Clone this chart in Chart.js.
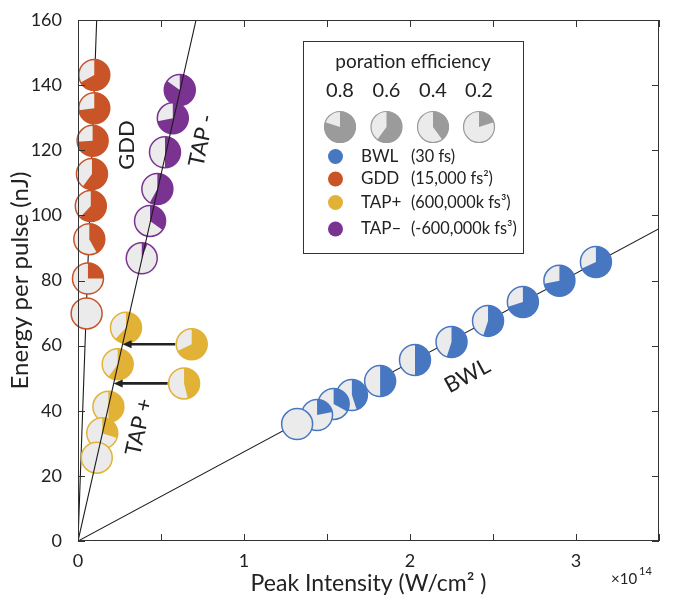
<!DOCTYPE html>
<html>
<head>
<meta charset="utf-8">
<script src="https://cdn.jsdelivr.net/npm/chart.js@4.4.0/dist/chart.umd.min.js"></script>
<style>
  html, body { margin: 0; padding: 0; background: #fff; }
  #wrap { width: 687px; height: 603px; }
</style>
</head>
<body>
<div id="wrap"><canvas id="chart" width="687" height="603"></canvas></div>
<script>
// Energy per pulse vs peak intensity, pie markers = poration efficiency

// BWL (30 fs)
const bwlX = [1.32, 1.44, 1.54, 1.65, 1.82, 2.03, 2.25, 2.47, 2.68, 2.90, 3.12];
const bwlY = [35.9, 38.7, 42.1, 44.8, 49.1, 55.6, 61.1, 67.6, 73.4, 79.9, 85.7];
const bwlEff = [0, 0.22, 0.33, 0.45, 0.5, 0.5, 0.55, 0.55, 0.7, 0.72, 0.68];

// GDD (15,000 fs2)
const gddX = [0.098, 0.098, 0.088, 0.084, 0.077, 0.068, 0.060, 0.052];
const gddY = [143.1, 132.9, 122.9, 112.7, 102.9, 92.7, 80.6, 69.9];
const gddEff = [0.67, 0.73, 0.74, 0.6, 0.62, 0.42, 0.25, 0];

// TAP+ (600,000k fs3)
const tapPlusX = [0.289, 0.239, 0.183, 0.146, 0.113];
const tapPlusY = [65.5, 54.3, 41.2, 33.1, 25.6];
const tapPlusEff = [0.62, 0.6, 0.5, 0.3, 0];

// TAP+ markers shown shifted to the right (arrows point back to the fit line)
const tapShiftX = [0.685, 0.639];
const tapShiftY = [60.4, 48.4];
const tapShiftEff = [0.68, 0.46];

// TAP- (-600,000k fs3)
const tapMinusX = [0.613, 0.571, 0.524, 0.478, 0.434, 0.384];
const tapMinusY = [138.5, 129.8, 119.4, 108.1, 98.3, 86.8];
const tapMinusEff = [0.85, 0.72, 0.5, 0.58, 0.35, 0.06];

// fit lines through origin: slope in nJ per 1e14 W/cm2
const fitNames = ['GDD', 'TAP', 'BWL'];
const fitSlopes = [1422, 225, 27.4];

// legend
const legendEff = [0.8, 0.6, 0.4, 0.2];
const legendNames = ['BWL', 'GDD', 'TAP+', 'TAP\u2013'];
const legendNotes = ['(30 fs)', '(15,000 fs\u00B2)', '(600,000k fs\u00B3)', '(-600,000k fs\u00B3)'];

const X_MAX = 3.5, Y_MAX = 160;
const FONT = 'Lato, "Open Sans", sans-serif';
const TXT = '#222';
const LIGHT = '#ebebeb';
const COLORS = { BWL: '#4877c2', GDD: '#c85428', TAPP: '#e2b237', TAPM: '#7a3391' };
const PIE_R = 15.5;

function pts(xs, ys) {
  return xs.map((x, i) => ({ x: x, y: ys[i] }));
}

function fitLine(slope) {
  // run from origin to the edge of the axes box
  const xEnd = Math.min(X_MAX, Y_MAX / slope);
  return [{ x: 0, y: 0 }, { x: xEnd, y: xEnd * slope }];
}

function lineDs(name) {
  const k = fitNames.indexOf(name);
  return {
    type: 'scatter', showLine: true, data: fitLine(fitSlopes[k]),
    borderColor: '#1a1a1a', borderWidth: 1.1, pointStyle: false, pointRadius: 0
  };
}

function pieDs(xs, ys, eff, color) {
  return {
    type: 'scatter', data: pts(xs, ys), eff: eff, pieColor: color,
    pointStyle: false, pointRadius: 0
  };
}

function drawPie(ctx, x, y, r, f, color, lw) {
  ctx.beginPath();
  ctx.arc(x, y, r, 0, Math.PI * 2);
  ctx.fillStyle = LIGHT;
  ctx.fill();
  if (f > 0) {
    ctx.beginPath();
    ctx.moveTo(x, y);
    ctx.arc(x, y, r, -Math.PI / 2, -Math.PI / 2 + f * Math.PI * 2);
    ctx.closePath();
    ctx.fillStyle = color;
    ctx.fill();
  }
  ctx.beginPath();
  ctx.arc(x, y, r, 0, Math.PI * 2);
  ctx.lineWidth = lw || 1.5;
  ctx.strokeStyle = color;
  ctx.stroke();
}

// pie markers drawn right after their own dataset, so line order still applies
const piePlugin = {
  id: 'pies',
  afterDatasetDraw(chart, args) {
    const ds = chart.data.datasets[args.index];
    if (!ds.eff) return;
    const ctx = chart.ctx;
    const order = args.meta.data.map((p, i) => i).sort((a, b) => args.meta.data[a].y - args.meta.data[b].y);
    ctx.save();
    order.forEach(i => {
      const p = args.meta.data[i];
      drawPie(ctx, p.x, p.y, PIE_R, ds.eff[i], ds.pieColor);
    });
    ctx.restore();
  }
};

// inward ticks on all four sides, box, arrows, in-plot labels, legend
const decorPlugin = {
  id: 'decor',
  afterDatasetsDraw(chart) {
    const ctx = chart.ctx;
    const xs = chart.scales.x, ys = chart.scales.y;
    ctx.save();
    // arrows from the shifted TAP+ markers back to the TAP line
    const tapSlope = fitSlopes[fitNames.indexOf('TAP')];
    ctx.strokeStyle = '#222';
    ctx.fillStyle = '#222';
    ctx.lineWidth = 2.6;
    tapShiftX.forEach((x, i) => {
      const py = ys.getPixelForValue(tapShiftY[i]);
      const x0 = xs.getPixelForValue(x) - PIE_R - 1;
      const x1 = xs.getPixelForValue(tapShiftY[i] / tapSlope);
      ctx.beginPath();
      ctx.moveTo(x0, py);
      ctx.lineTo(x1 + 7, py);
      ctx.stroke();
      ctx.beginPath();
      ctx.moveTo(x1, py);
      ctx.lineTo(x1 + 9, py - 4);
      ctx.lineTo(x1 + 9, py + 4);
      ctx.closePath();
      ctx.fill();
    });

    // rotated labels next to each fit line
    const labels = [
      { t: 'GDD', x: 0.295, y: 121.6, rot: -90 },
      { t: 'TAP -', x: 0.745, y: 123, rot: -77.7 },
      { t: 'TAP +', x: 0.368, y: 35.0, rot: -77.7 },
      { t: 'BWL', x: 2.345, y: 50.7, rot: -28.3 }
    ];
    ctx.font = '22px ' + FONT;
    ctx.fillStyle = TXT;
    ctx.textAlign = 'center';
    ctx.textBaseline = 'middle';
    labels.forEach(l => {
      ctx.save();
      ctx.translate(xs.getPixelForValue(l.x), ys.getPixelForValue(l.y));
      ctx.rotate(l.rot * Math.PI / 180);
      ctx.fillText(l.t, 0, 0);
      ctx.restore();
    });

    // axes box and inward ticks
    const a = chart.chartArea;
    ctx.strokeStyle = '#333';
    ctx.lineWidth = 1;
    ctx.strokeRect(a.left + 0.5, a.top + 0.5, a.right - a.left - 1, a.bottom - a.top - 1);
    const TL = 7;
    ctx.beginPath();
    xs.ticks.forEach(t => {
      const px = Math.round(xs.getPixelForValue(t.value)) + 0.5;
      ctx.moveTo(px, a.bottom); ctx.lineTo(px, a.bottom - TL);
      ctx.moveTo(px, a.top); ctx.lineTo(px, a.top + TL);
    });
    ys.ticks.forEach(t => {
      const py = Math.round(ys.getPixelForValue(t.value)) + 0.5;
      ctx.moveTo(a.left, py); ctx.lineTo(a.left + TL, py);
      ctx.moveTo(a.right, py); ctx.lineTo(a.right - TL, py);
    });
    ctx.stroke();

    // exponent for the x axis
    ctx.textAlign = 'left';
    ctx.textBaseline = 'alphabetic';
    ctx.font = '15px ' + FONT;
    ctx.fillText('\u00D710', 611, 584);
    ctx.font = '11px ' + FONT;
    ctx.fillText('14', 639, 575);

    // legend box
    const L = { left: 303, top: 41, right: 523, bottom: 253 };
    ctx.fillStyle = '#fff';
    ctx.fillRect(L.left, L.top, L.right - L.left, L.bottom - L.top);
    ctx.strokeStyle = '#333';
    ctx.strokeRect(L.left + 0.5, L.top + 0.5, L.right - L.left, L.bottom - L.top);
    ctx.fillStyle = TXT;
    ctx.textAlign = 'center';
    ctx.textBaseline = 'middle';
    ctx.font = '19px ' + FONT;
    ctx.fillText('poration efficiency', 413, 62);
    const colX = [340, 386.5, 433, 479];
    legendEff.forEach((f, i) => {
      ctx.fillStyle = TXT;
      ctx.font = '20px ' + FONT;
      ctx.fillText(String(f), colX[i], 91);
      drawPie(ctx, colX[i], 127, 15.5, f, '#9b9b9b', 1.2);
    });
    const rowY = [156.5, 179, 202.5, 229];
    const legendColors = [COLORS.BWL, COLORS.GDD, COLORS.TAPP, COLORS.TAPM];
    ctx.textAlign = 'left';
    legendNames.forEach((n, i) => {
      ctx.beginPath();
      ctx.arc(335.5, rowY[i], 7.5, 0, Math.PI * 2);
      ctx.fillStyle = legendColors[i];
      ctx.fill();
      ctx.fillStyle = TXT;
      ctx.font = '17px ' + FONT;
      ctx.fillText(n, 361, rowY[i]);
      ctx.font = '16.3px ' + FONT;
      ctx.fillText(legendNotes[i], 411, rowY[i]);
    });
    ctx.restore();
  }
};

const datasets = [
  lineDs('TAP'),
  pieDs(tapShiftX, tapShiftY, tapShiftEff, COLORS.TAPP),
  pieDs(tapPlusX, tapPlusY, tapPlusEff, COLORS.TAPP),
  pieDs(tapMinusX, tapMinusY, tapMinusEff, COLORS.TAPM),
  pieDs(gddX, gddY, gddEff, COLORS.GDD),
  pieDs(bwlX, bwlY, bwlEff, COLORS.BWL),
  lineDs('GDD'),
  lineDs('BWL')
];

new Chart(document.getElementById('chart'), {
  type: 'scatter',
  data: { datasets: datasets },
  options: {
    responsive: false,
    devicePixelRatio: 1,
    animation: false,
    events: [],
    layout: { padding: { top: 20, right: 28, left: 0, bottom: 0 } },
    plugins: { legend: { display: false }, tooltip: { enabled: false } },
    scales: {
      x: {
        type: 'linear', min: 0, max: X_MAX,
        grid: { display: false }, border: { display: false },
        ticks: {
          stepSize: 0.5, padding: 1, color: TXT, font: { family: FONT, size: 18 },
          callback: v => Number.isInteger(v) ? String(v) : ''
        },
        title: {
          display: true, text: 'Peak Intensity (W/cm\u00B2 )', color: TXT,
          font: { family: FONT, size: 23 }, padding: { top: 0, bottom: 6 }
        },
        afterFit: s => { s.height = 62; }
      },
      y: {
        type: 'linear', min: 0, max: Y_MAX,
        grid: { display: false }, border: { display: false },
        ticks: { stepSize: 20, padding: 8, color: TXT, font: { family: FONT, size: 18 } },
        title: {
          display: true, text: 'Energy per pulse (nJ)', color: TXT,
          font: { family: FONT, size: 24 }, padding: { top: 6, bottom: 0 }
        },
        afterFit: s => { s.width = 78; }
      }
    }
  },
  plugins: [piePlugin, decorPlugin]
});
</script>
</body>
</html>
